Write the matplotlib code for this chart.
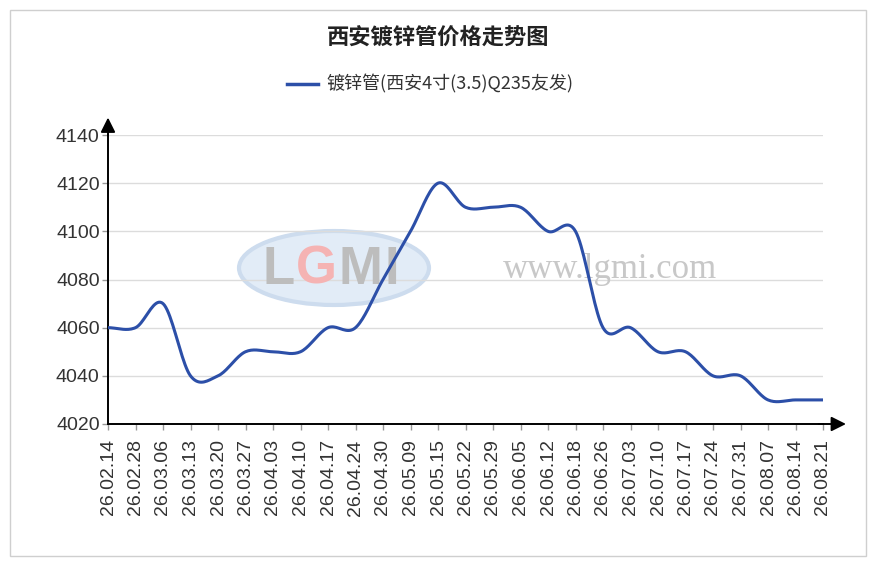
import numpy as np
import matplotlib
matplotlib.use('Agg')
import matplotlib.pyplot as plt
from matplotlib.patches import Ellipse, Rectangle

# Data
dates = ['26.02.14', '26.02.28', '26.03.06', '26.03.13', '26.03.20', '26.03.27',
         '26.04.03', '26.04.10', '26.04.17', '26.04.24', '26.04.30', '26.05.09',
         '26.05.15', '26.05.22', '26.05.29', '26.06.05', '26.06.12', '26.06.18',
         '26.06.26', '26.07.03', '26.07.10', '26.07.17', '26.07.24', '26.07.31',
         '26.08.07', '26.08.14', '26.08.21']
prices = [4060, 4060, 4070, 4040, 4040, 4050, 4050, 4050, 4060, 4060, 4080, 4100,
          4120, 4110, 4110, 4110, 4100, 4100, 4060, 4060, 4050, 4050, 4040, 4040,
          4030, 4030, 4030]
y_ticks = [4020, 4040, 4060, 4080, 4100, 4120, 4140]

title = '西安镀锌管价格走势图'
series_name = '镀锌管(西安4寸(3.5)Q235友发)'

cjk = ['Noto Sans CJK SC', 'DejaVu Sans']
num_font = 'Liberation Sans'


# Catmull-Rom smoothing for drawing the curve (like the original spline chart)
def smooth(y, steps=20):
    y = np.asarray(y, dtype=float)
    p = np.concatenate([[y[0]], y, [y[-1]]])
    xs, ys = [], []
    for i in range(len(y) - 1):
        p0, p1, p2, p3 = p[i], p[i + 1], p[i + 2], p[i + 3]
        m1 = (p2 - p0) / 2
        m2 = (p3 - p1) / 2
        t = np.linspace(0, 1, steps, endpoint=False)
        h00 = 2 * t**3 - 3 * t**2 + 1
        h10 = t**3 - 2 * t**2 + t
        h01 = -2 * t**3 + 3 * t**2
        h11 = t**3 - t**2
        xs.append(i + t)
        ys.append(h00 * p1 + h10 * m1 + h01 * p2 + h11 * m2)
    xs.append([len(y) - 1])
    ys.append([y[-1]])
    return np.concatenate(xs), np.concatenate(ys)


fig = plt.figure(figsize=(8.75, 5.67), dpi=100)
W, H = 875, 567
ax = fig.add_axes([108 / W, 1 - 424 / H, 715 / W, 289 / H])

# outer border
fig.add_artist(Rectangle((10 / W, 1 - 556 / H), 856 / W, 546 / H, transform=fig.transFigure,
                         fill=False, edgecolor='#cfcfcf', lw=1))

# watermark
ax.add_patch(Ellipse((334 / W, 1 - 268 / H), 190 / W, 74 / H, transform=fig.transFigure,
                     facecolor='#e2ecf7', edgecolor='#cddcee', lw=3, zorder=0.5, clip_on=False))
for txt, xp, col in [('L', 262, '#bdbdbd'), ('G', 296, '#f5b3b3'), ('M', 339, '#bdbdbd'),
                     ('I', 385, '#bdbdbd')]:
    ax.text(xp / W, 1 - 270 / H, txt, transform=fig.transFigure, fontsize=38,
            family='Liberation Sans', fontweight='bold', color=col, va='center', ha='left',
            zorder=0.6)
ax.text(610 / W, 1 - 270 / H, 'www.lgmi.com', transform=fig.transFigure, fontsize=25,
        family='Liberation Serif', color='#c8c8c8', va='center', ha='center', zorder=0.6)

# series
x = np.arange(len(prices))
sx, sy = smooth(prices)
ax.plot(sx, sy, color='#2c4fa8', lw=2.2, zorder=3, solid_capstyle='round')

ax.set_xlim(0, len(prices) - 1)
ax.set_ylim(4020, 4140)
ax.set_yticks(y_ticks)
ax.set_xticks(x)
ax.set_xticklabels(dates, rotation=90)
ax.grid(axis='y', color='#dcdcdc', lw=1)
ax.set_axisbelow(True)

for s in ['top', 'right']:
    ax.spines[s].set_visible(False)
for s in ['left', 'bottom']:
    ax.spines[s].set_color('black')
    ax.spines[s].set_linewidth(1.4)
ax.tick_params(axis='both', colors='#999999', length=4, width=1, pad=2, labelcolor='#333333')
ax.tick_params(axis='x', pad=7)
for lab in ax.get_xticklabels() + ax.get_yticklabels():
    lab.set_family(num_font)
    lab.set_fontsize(14)

# axis arrows
ax.annotate('', xy=(1.036, 0), xytext=(0.99, 0), xycoords='axes fraction',
            arrowprops=dict(arrowstyle='-|>', color='black', lw=1.4, mutation_scale=22),
            annotation_clip=False)
ax.annotate('', xy=(0, 1.07), xytext=(0, 0.99), xycoords='axes fraction',
            arrowprops=dict(arrowstyle='-|>', color='black', lw=1.4, mutation_scale=22),
            annotation_clip=False)

# title and legend
fig.text(438 / W, 1 - 38 / H, title, family=cjk, fontsize=16, fontweight='bold',
         ha='center', va='center', color='#222222')
fig.add_artist(plt.Line2D([287 / W, 318 / W], [1 - 84 / H, 1 - 84 / H], color='#2c4fa8', lw=2.5))
fig.text(326 / W, 1 - 84 / H, series_name, family=cjk, fontsize=13,
         ha='left', va='center', color='#333333')

fig.savefig('out.png', dpi=100)
